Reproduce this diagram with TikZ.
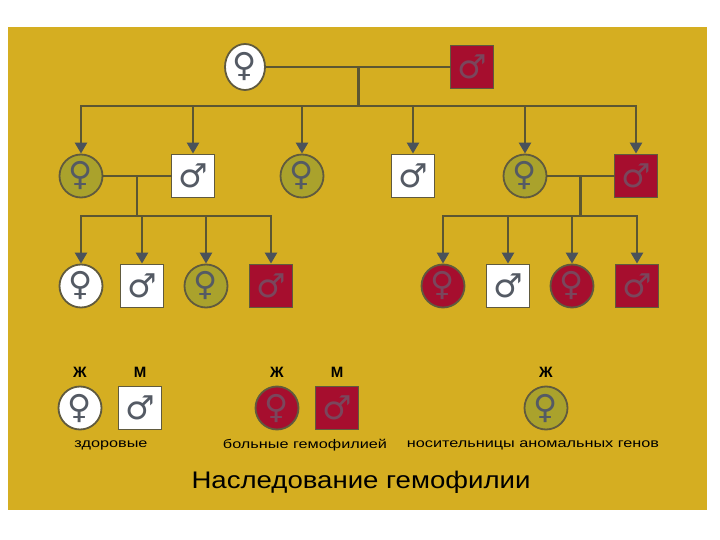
\documentclass[tikz,border=0pt]{standalone}
\usepackage{fontspec}
\setmainfont{Liberation Sans}
\newfontfamily\symfont{DejaVu Sans}
\newfontfamily\capfont[FakeStretch=1.3]{Liberation Sans}
\newfontfamily\titlefont[FakeStretch=1.15]{Liberation Sans}
\usetikzlibrary{arrows.meta, calc, shapes.geometric}

\definecolor{bgc}{RGB}{213,174,33}
\definecolor{hemo}{RGB}{166,14,46}
\definecolor{carrierc}{RGB}{170,162,44}
\definecolor{edgec}{RGB}{96,90,62}
\definecolor{linec}{RGB}{92,86,50}
\definecolor{tipc}{RGB}{74,82,90}
\definecolor{symc}{RGB}{84,90,100}
\definecolor{symred}{RGB}{122,70,92}

\begin{document}
\begin{tikzpicture}[x=1pt, y=-1pt,
    person/.style={draw=edgec, line width=1.8pt, minimum size=43pt, inner sep=0pt,
                   font=\symfont\fontsize{33}{33}\selectfont, text=symc},
    fem/.style={person, circle},
    mal/.style={person, rectangle},
    well/.style={fill=white},
    sick/.style={fill=hemo, text=symred},
    carrier/.style={fill=carrierc},
    tree/.style={line width=2.4pt, linec, line cap=rect},
    kid/.style={tree, -{Triangle[length=11pt, width=12pt, color=tipc]}},
    sexlbl/.style={font=\bfseries\fontsize{15}{15}\selectfont},
    caption/.style={font=\capfont\fontsize{12.5}{12.5}\selectfont},
]
\useasboundingbox (0,0) rectangle (720,540);
\fill[bgc] (8,27) rectangle (707,510);

% parents
\node[fem, well, ellipse, minimum width=40pt, minimum height=46pt] (gf) at (245,67) {♀};
\node[mal, sick] (gm) at (472,67) {♂};

% their children
\node[fem, carrier] (a1) at (81,176)  {♀};
\node[mal, well]    (a2) at (193,176) {♂};
\node[fem, carrier] (a3) at (302,176) {♀};
\node[mal, well]    (a4) at (413,176) {♂};
\node[fem, carrier] (a5) at (525,176) {♀};
\node[mal, sick]    (a6) at (636,176) {♂};

% grandchildren
\node[fem, well]    (b1) at (81,286)  {♀};
\node[mal, well]    (b2) at (142,286) {♂};
\node[fem, carrier] (b3) at (206,286) {♀};
\node[mal, sick]    (b4) at (271,286) {♂};
\node[fem, sick]    (b5) at (443,286) {♀};
\node[mal, well]    (b6) at (508,286) {♂};
\node[fem, sick]    (b7) at (572,286) {♀};
\node[mal, sick]    (b8) at (637,286) {♂};

% family lines
\draw[tree] (gf.east) -- (gm.west);
\coordinate (j0) at ($(gf)!0.5!(gm)$);
\coordinate (t0) at (j0 |- 0,106);
\draw[tree] (j0) -- (t0);
\draw[tree] (a1 |- t0) -- (a6 |- t0);
\foreach \k in {a1,a2,a3,a4,a5,a6}
    \draw[kid] (\k |- t0) -- (\k);

\draw[tree] (a1.east) -- (a2.west);
\coordinate (j1) at ($(a1)!0.5!(a2)$);
\coordinate (t1) at (j1 |- 0,216);
\draw[tree] (j1) -- (t1);
\draw[tree] (b1 |- t1) -- (b4 |- t1);
\foreach \k in {b1,b2,b3,b4}
    \draw[kid] (\k |- t1) -- (\k);

\draw[tree] (a5.east) -- (a6.west);
\coordinate (j2) at ($(a5)!0.5!(a6)$);
\coordinate (t2) at (j2 |- 0,216);
\draw[tree] (j2) -- (t2);
\draw[tree] (b5 |- t2) -- (b8 |- t2);
\foreach \k in {b5,b6,b7,b8}
    \draw[kid] (\k |- t2) -- (\k);

% legend
\node[fem, well]    (lwf) at (80,408)  {♀};
\node[mal, well]    (lwm) at (140,408) {♂};
\node[fem, sick]    (lsf) at (277,408) {♀};
\node[mal, sick]    (lsm) at (337,408) {♂};
\node[fem, carrier] (lcf) at (546,408) {♀};

\node[sexlbl] (lwfx) at (80,372)  {Ж};
\node[sexlbl] (lwmx) at (140,372) {М};
\node[sexlbl] (lsfx) at (277,372) {Ж};
\node[sexlbl] (lsmx) at (337,372) {М};
\node[sexlbl] (lcfx) at (546,372) {Ж};

\node[caption] (cw) at (111,445) {здоровые};
\node[caption] (cs) at (305,445) {больные гемофилией};
\node[caption] (cc) at (533,445) {носительницы аномальных генов};

\node[font=\titlefont\fontsize{24}{24}\selectfont] (title) at (361,482) {Наследование гемофилии};
\end{tikzpicture}
\end{document}
